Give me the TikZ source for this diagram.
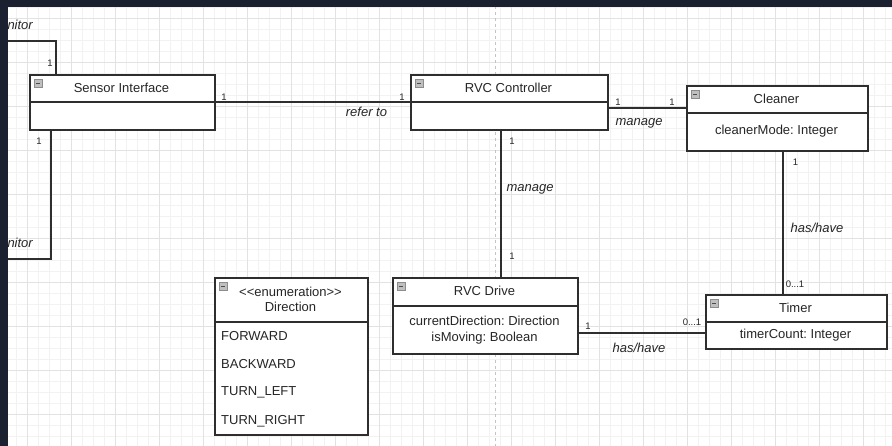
\documentclass[tikz,border=0pt]{standalone}
\usepackage{fontspec}
\setmainfont{Liberation Sans}
\usetikzlibrary{calc}
\definecolor{frame}{HTML}{1B2130}
\definecolor{minorgrid}{HTML}{F2F2F2}
\definecolor{majorgrid}{HTML}{E2E2E2}
\definecolor{ink}{HTML}{2E2E2E}
\definecolor{guide}{HTML}{C4C4C4}
\begin{document}
\frenchspacing
\begin{tikzpicture}[x=1pt,y=-1pt,
  classbox/.style={draw=ink,line width=1.6pt,fill=white,rectangle,inner sep=0pt,anchor=north west},
  title/.style={font=\fontsize{13}{15}\selectfont,inner sep=0pt,text=black!85},
  attr/.style={font=\fontsize{13}{16}\selectfont,inner sep=0pt,text=black!85,align=center},
  item/.style={font=\fontsize{13}{15}\selectfont,inner sep=0pt,text=black!85,anchor=west},
  mult/.style={font=\fontsize{9.5}{11}\selectfont,inner sep=0pt,text=black!85},
  role/.style={font=\itshape\fontsize{13}{15}\selectfont,inner sep=0pt,text=black!85},
  assoc/.style={draw=ink,line width=1.6pt},
  sepline/.style={draw=ink,line width=1.6pt},
  collapse/.style={fill=black!25,draw=black!45,line width=0.5pt}
]
\useasboundingbox (0,0) rectangle (892,446);
\fill[white] (0,0) rectangle (892,446);

% background grid
\foreach \x in {5,16,...,892} \draw[minorgrid,line width=0.6pt] (\x,0) -- (\x,446);
\foreach \y in {7,18,...,446} \draw[minorgrid,line width=0.6pt] (0,\y) -- (892,\y);
\foreach \x in {27,71,...,892} \draw[majorgrid,line width=0.8pt] (\x,0) -- (\x,446);
\foreach \y in {18,62,...,446} \draw[majorgrid,line width=0.8pt] (0,\y) -- (892,\y);

% alignment guide
\draw[guide,line width=0.7pt,dash pattern=on 3pt off 3pt] (495,0) -- (495,446);

% class boxes
\node[classbox,minimum width=185pt,minimum height=55pt] (si) at (29,74) {};
\node[classbox,minimum width=197pt,minimum height=55pt] (rc) at (410,74) {};
\node[classbox,minimum width=181pt,minimum height=65pt] (cl) at (686,85) {};
\node[classbox,minimum width=185pt,minimum height=76pt] (rd) at (392,277) {};
\node[classbox,minimum width=181pt,minimum height=54pt] (tm) at (705,294) {};
\node[classbox,minimum width=153pt,minimum height=157pt] (dir) at (214,277) {};

% compartment separators
\draw[sepline] ([yshift=-28pt]si.north west) coordinate (si-sw) -- ([yshift=-28pt]si.north east) coordinate (si-se);
\draw[sepline] ([yshift=-28pt]rc.north west) coordinate (rc-sw) -- ([yshift=-28pt]rc.north east);
\draw[sepline] ([yshift=-28pt]cl.north west) -- ([yshift=-28pt]cl.north east);
\draw[sepline] ([yshift=-29pt]rd.north west) -- ([yshift=-29pt]rd.north east);
\draw[sepline] ([yshift=-28pt]tm.north west) -- ([yshift=-28pt]tm.north east);
\draw[sepline] ([yshift=-45pt]dir.north west) -- ([yshift=-45pt]dir.north east);

% collapse toggles
\foreach \b in {si,rc,cl,rd,tm,dir}{
  \path ([xshift=5pt,yshift=-5pt]\b.north west) coordinate (\b-tg);
  \filldraw[collapse] (\b-tg) rectangle ++(8,8);
  \draw[black!70,line width=0.9pt] ($(\b-tg)+(2,4)$) -- ++(4,0);
}

% titles and attributes
\node[title] (si-t) at (121.5,88) {Sensor Interface};
\node[title] (rc-t) at (508.5,88) {RVC Controller};
\node[title] (cl-t) at (776.5,99) {Cleaner};
\node[attr] (cl-a) at (776.5,131.5) {cleanerMode: Integer};
\node[title] (rd-t) at (484.5,291) {RVC Drive};
\node[attr] (rd-a) at (484.5,330) {currentDirection: Direction\\isMoving: Boolean};
\node[title] (tm-t) at (795.5,308) {Timer};
\node[attr] (tm-a) at (795.5,335) {timerCount: Integer};
\node[title] (dir-s) at (290.5,292) {{<}{<}enumeration{>}{>}};
\node[title] (dir-t) at (290.5,307) {Direction};
\node[item] (e1) at (221,336) {FORWARD};
\node[item] (e2) at (221,364) {BACKWARD};
\node[item] (e3) at (221,392) {TURN\_LEFT};
\node[item] (e4) at (221,421) {TURN\_RIGHT};

% associations
\draw[assoc] (si-se) -- (si-se -| rc.west);
\coordinate (rc-o) at ([yshift=-5.5pt]rc.east);
\draw[assoc] (rc-o) -- (rc-o -| cl.west);
\coordinate (rc-d) at ([xshift=-8.5pt]rc.south);
\draw[assoc] (rc-d) -- (rc-d |- rd.north);
\coordinate (rd-o) at ([yshift=-17pt]rd.east);
\draw[assoc] (rd-o) -- (rd-o -| tm.west);
\coordinate (cl-d) at ([xshift=5.5pt]cl.south);
\draw[assoc] (cl-d) -- (cl-d |- tm.north);

% self association of the sensor interface, running off to the left
\coordinate (si-up) at ([xshift=-66.5pt]si.north);
\coordinate (lp-top) at (0,41);
\draw[assoc] (si-up) |- (lp-top);
\coordinate (si-dn) at ([xshift=-71.5pt]si.south);
\coordinate (lp-bot) at (0,259);
\draw[assoc] (si-dn) |- (lp-bot);

% multiplicities and role names
\node[mult] (m1) at (50,63) {1};
\node[mult] (m2) at (39,141) {1};
\node[role,anchor=east] (r0) at (33,25) {nitor};
\node[role,anchor=east] (r1) at (33,243) {nitor};

\node[mult] (m3) at (224,97) {1};
\node[mult] (m4) at (402,97) {1};
\node[role] (r2) at (366.5,112) {refer to};

\node[mult] (m5) at (618,102.5) {1};
\node[mult] (m6) at (672,102.5) {1};
\node[role] (r3) at (639,123) {manage};

\node[mult] (m7) at (512,141) {1};
\node[role] (r4) at (530,189) {manage};
\node[mult] (m8) at (512,256) {1};

\node[mult] (m9) at (588,326.5) {1};
\node[mult] (m10) at (692,322) {0...1};
\node[role] (r5) at (639,348) {has/have};

\node[mult] (m11) at (795.5,162) {1};
\node[role] (r6) at (817,228) {has/have};
\node[mult] (m12) at (795,284) {0...1};

% window frame
\fill[frame] (0,0) rectangle (892,7);
\fill[frame] (0,0) rectangle (8,446);
\end{tikzpicture}
\end{document}
